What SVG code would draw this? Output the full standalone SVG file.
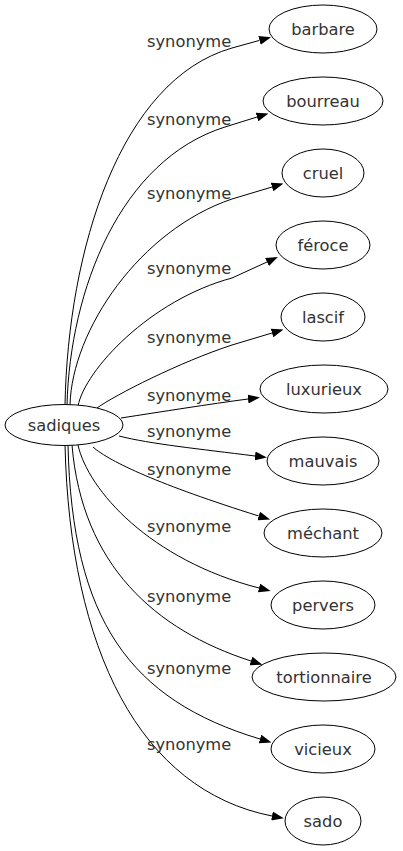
<svg xmlns="http://www.w3.org/2000/svg" width="403" height="851" viewBox="0 0 403 851">
<style>
.n ellipse{fill:#fff;stroke:#000;stroke-width:1}
.n text,.lbl{font-family:"DejaVu Sans",sans-serif;font-size:16.3px;fill:#333}
.n text{text-anchor:middle}
.e path{fill:none;stroke:#000;stroke-width:1;marker-end:url(#ah)}
</style>
<defs>
<marker id="ah" markerWidth="12" markerHeight="9" refX="0" refY="4.5" orient="auto" markerUnits="userSpaceOnUse"><path d="M0,0 L12,4.5 L0,9 z" fill="#000"/></marker>
</defs>
<rect width="403" height="851" fill="#fff"/>
<g id="edges" class="e">
<path d="M65,405 C68,250 120,80 232,48 L259.5,40.4"/>
<path d="M67,405 C70,290 120,160 225,127 L257,117"/>
<path d="M70,405 C72,330 140,230 232,199 L272,187"/>
<path d="M78,406 C85,370 150,300 232,278 L267,262"/>
<path d="M97,408 C115,395 180,362 232,345 L272,333"/>
<path d="M121,418 C160,412 210,404 248,399"/>
<path d="M119,436 C150,444 200,449 255,456"/>
<path d="M93,447 C110,462 160,485 258.7,516"/>
<path d="M78,445 C88,490 150,560 259,588"/>
<path d="M72,445 C82,565 155,630 251,661"/>
<path d="M68,445 C72,620 130,700 260,739"/>
<path d="M65,445 C70,650 140,790 272,816"/>
</g>
<g id="labels">
<text class="lbl" x="147" y="47">synonyme</text>
<text class="lbl" x="147" y="125">synonyme</text>
<text class="lbl" x="147" y="199">synonyme</text>
<text class="lbl" x="147" y="274">synonyme</text>
<text class="lbl" x="147" y="343">synonyme</text>
<text class="lbl" x="147" y="401">synonyme</text>
<text class="lbl" x="147" y="437">synonyme</text>
<text class="lbl" x="147" y="475">synonyme</text>
<text class="lbl" x="147" y="532">synonyme</text>
<text class="lbl" x="147" y="602">synonyme</text>
<text class="lbl" x="147" y="674">synonyme</text>
<text class="lbl" x="147" y="750">synonyme</text>
</g>
<g id="sadiques" class="n"><ellipse cx="64" cy="425" rx="59" ry="20.5"/><text x="64" y="431">sadiques</text></g>
<g id="barbare" class="n"><ellipse cx="323" cy="29" rx="54" ry="24"/><text x="323" y="35">barbare</text></g>
<g id="bourreau" class="n"><ellipse cx="323" cy="101" rx="60" ry="24"/><text x="323" y="107">bourreau</text></g>
<g id="cruel" class="n"><ellipse cx="323" cy="173" rx="41" ry="24"/><text x="323" y="179">cruel</text></g>
<g id="feroce" class="n"><ellipse cx="323" cy="245" rx="47" ry="24"/><text x="323" y="251">féroce</text></g>
<g id="lascif" class="n"><ellipse cx="323" cy="317" rx="42" ry="24"/><text x="323" y="323">lascif</text></g>
<g id="luxurieux" class="n"><ellipse cx="324" cy="389" rx="64" ry="24"/><text x="324" y="395">luxurieux</text></g>
<g id="mauvais" class="n"><ellipse cx="323" cy="461" rx="56" ry="24"/><text x="323" y="467">mauvais</text></g>
<g id="mechant" class="n"><ellipse cx="323" cy="533" rx="59" ry="24"/><text x="323" y="539">méchant</text></g>
<g id="pervers" class="n"><ellipse cx="323" cy="605" rx="52" ry="24"/><text x="323" y="611">pervers</text></g>
<g id="tortionnaire" class="n"><ellipse cx="324" cy="677" rx="72" ry="24"/><text x="324" y="683">tortionnaire</text></g>
<g id="vicieux" class="n"><ellipse cx="323" cy="749" rx="52" ry="24"/><text x="323" y="755">vicieux</text></g>
<g id="sado" class="n"><ellipse cx="323" cy="821" rx="38" ry="24"/><text x="323" y="827">sado</text></g>
</svg>
